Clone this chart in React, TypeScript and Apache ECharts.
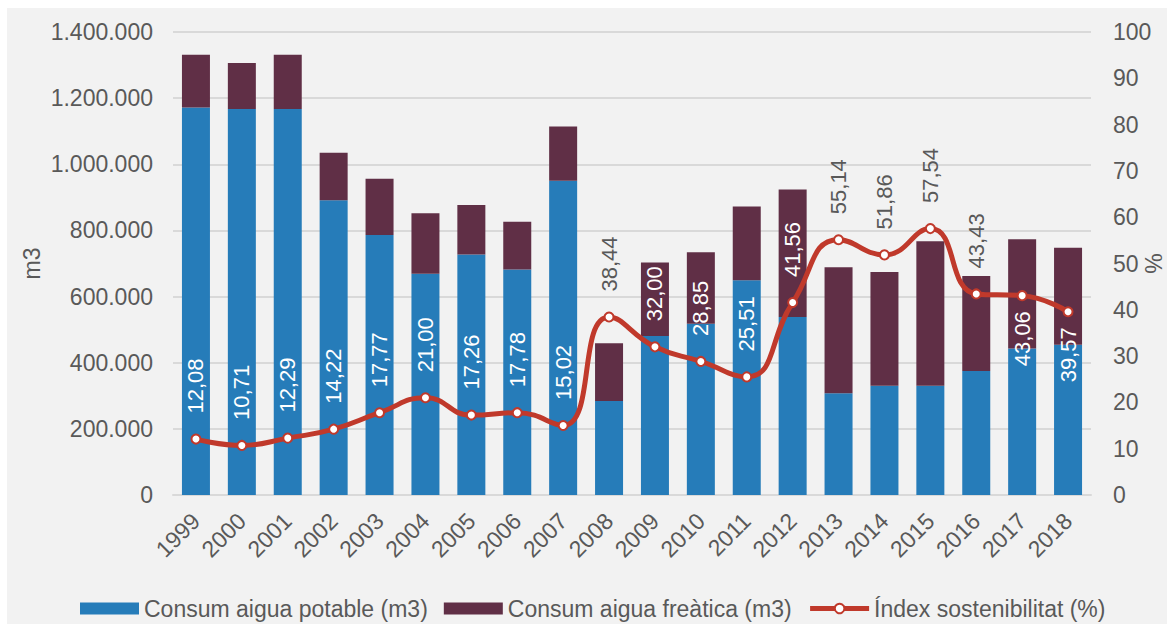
import React, { useEffect, useRef } from "react";
import * as echarts from "echarts";

const years = ["1999","2000","2001","2002","2003","2004","2005","2006","2007","2008","2009","2010","2011","2012","2013","2014","2015","2016","2017","2018"];
const potable = [1172000,1167000,1167000,891000,786000,669000,727000,682000,950000,284000,481000,518000,649000,538000,308000,330000,330000,375000,443000,454000];
const freatica = [159000,139000,164000,144000,170000,183000,150000,144000,164000,175000,222000,216000,223000,386000,381000,344000,437000,287000,330000,294000];
const indexSost = [12.08,10.71,12.29,14.22,17.77,21.0,17.26,17.78,15.02,38.44,32.0,28.85,25.51,41.56,55.14,51.86,57.54,43.43,43.06,39.57];
const leftTicks = { min: 0, max: 1400000, interval: 200000 };
const rightTicks = { min: 0, max: 100, interval: 10 };

const labelsBelow = new Set(["2017", "2018"]);
const darkLabels = new Set(["2008", "2013", "2014", "2015", "2016"]);

const GREY = "#595959";
const FONT = "'Liberation Sans', Arial, sans-serif";
const RED = "#c0392b";

const fmtThousands = (v: number) => String(v).replace(/\B(?=(\d{3})+(?!\d))/g, ".");

export default function App() {
  const ref = useRef<HTMLDivElement>(null);
  useEffect(() => {
    if (!ref.current) return;
    const chart = echarts.init(ref.current, undefined, { renderer: "svg" });
    const lineData = indexSost.map((v, i) => {
      const below = labelsBelow.has(years[i]);
      return {
        value: v,
        label: {
          position: below ? "bottom" : "top",
          align: below ? "right" : "left",
          distance: below ? 10 : 20,
          color: darkLabels.has(years[i]) ? GREY : "#ffffff",
        },
      };
    });
    chart.setOption({
      animation: false,
      backgroundColor: "#f2f2f2",
      textStyle: { fontFamily: FONT },
      grid: { left: 166, top: 24, width: 918, height: 463, containLabel: false, outerBoundsMode: "none" },
      legend: {
        left: 68,
        top: 584,
        itemWidth: 59,
        itemHeight: 12,
        itemGap: 16,
        textStyle: { fontSize: 23, color: GREY, fontFamily: FONT },
        data: [
          { name: "Consum aigua potable (m3)", icon: "rect" },
          { name: "Consum aigua freàtica (m3)", icon: "rect" },
          { name: "Índex sostenibilitat (%)", lineStyle: { width: 5, color: RED }, itemStyle: { color: "#ffffff", borderColor: RED, borderWidth: 2 } },
        ],
      },
      xAxis: {
        type: "category",
        data: years,
        axisLine: { lineStyle: { color: "#d9d9d9", width: 2 } },
        axisTick: { show: false },
        axisLabel: { rotate: 45, interval: 0, margin: 22, fontSize: 23, color: GREY, fontFamily: FONT },
      },
      yAxis: [
        {
          type: "value",
          min: leftTicks.min,
          max: leftTicks.max,
          interval: leftTicks.interval,
          name: "m3",
          nameLocation: "middle",
          nameRotate: 90,
          nameGap: 130,
          nameMoveOverlap: false,
          nameTextStyle: { fontSize: 23, color: GREY, fontFamily: FONT },
          axisLine: { show: false },
          axisTick: { show: false },
          axisLabel: { margin: 20, fontSize: 23, color: GREY, fontFamily: FONT, formatter: (v: number) => fmtThousands(v) },
          splitLine: { lineStyle: { color: "#d9d9d9", width: 2 } },
        },
        {
          type: "value",
          min: rightTicks.min,
          max: rightTicks.max,
          interval: rightTicks.interval,
          name: "%",
          nameLocation: "middle",
          nameRotate: -90,
          nameGap: 50,
          nameMoveOverlap: false,
          nameTextStyle: { fontSize: 23, color: GREY, fontFamily: FONT },
          axisLine: { show: false },
          axisTick: { show: false },
          axisLabel: { margin: 22, fontSize: 23, color: GREY, fontFamily: FONT },
          splitLine: { show: false },
        },
      ],
      series: [
        {
          name: "Consum aigua potable (m3)",
          type: "bar",
          stack: "total",
          barWidth: 28,
          data: potable,
          itemStyle: { color: "#267cb9" },
        },
        {
          name: "Consum aigua freàtica (m3)",
          type: "bar",
          stack: "total",
          barWidth: 28,
          data: freatica,
          itemStyle: { color: "#602f46" },
        },
        {
          name: "Índex sostenibilitat (%)",
          type: "line",
          yAxisIndex: 1,
          smooth: 0.5,
          data: lineData,
          symbol: "circle",
          symbolSize: 9,
          lineStyle: { color: RED, width: 5 },
          itemStyle: { color: "#ffffff", borderColor: RED, borderWidth: 2 },
          label: {
            show: true,
            rotate: 90,
            verticalAlign: "middle",
            fontSize: 22,
            fontFamily: FONT,
            formatter: (p: any) => Number(p.value).toFixed(2).replace(".", ","),
          },
          z: 5,
        },
      ],
    });
    return () => chart.dispose();
  }, []);
  return (
    <div
      ref={ref}
      style={{ position: "absolute", left: 7, top: 8, width: 1160, height: 616 }}
    />
  );
}
